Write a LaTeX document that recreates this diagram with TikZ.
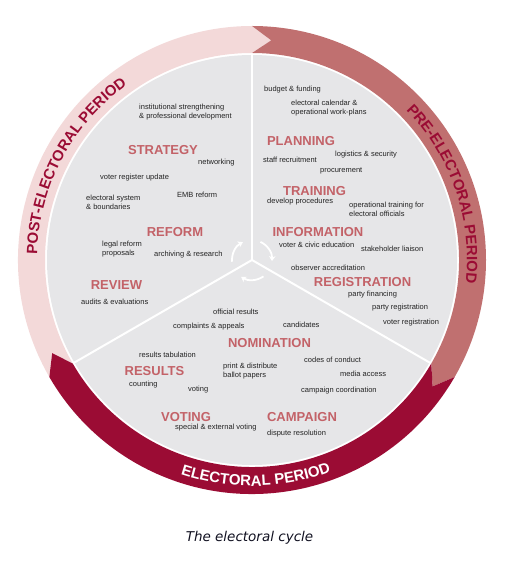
\documentclass[tikz,border=0pt]{standalone}
\usepackage{fontspec}
\setmainfont{Liberation Sans}
\newfontfamily\capfont{DejaVu Sans}
\usetikzlibrary{decorations.text,arrows.meta}
\definecolor{ringpink}{RGB}{243,217,217}
\definecolor{ringmid}{RGB}{192,112,112}
\definecolor{ringdark}{RGB}{155,12,52}
\definecolor{diskc}{RGB}{230,230,232}
\definecolor{headc}{RGB}{195,98,104}
\definecolor{textc}{RGB}{35,35,35}
\definecolor{captc}{RGB}{16,16,32}
\newcommand\myringfont{\fontsize{15}{15}\bfseries\selectfont}
\newcommand\myringarrow[3]{\fill[#3] (#1:234) arc[start angle=#1, end angle=#2, radius=234] -- ({#2-5}:220.5) -- (#2:207) arc[start angle=#2, end angle=#1, radius=207] -- ({#1-5}:220.5) -- cycle;}
\begin{document}
\begin{tikzpicture}[x=1pt,y=1pt,
  small/.style={anchor=west, font=\fontsize{7.5}{9}\selectfont, text=textc, align=left, inner sep=0pt},
  hd/.style={font=\fontsize{13}{13}\bfseries\selectfont, text=headc, inner sep=0pt},
  cyc/.style={white, line width=1.8pt, -{Stealth[length=5pt,width=6.5pt]}}]
\useasboundingbox (-252,-315) rectangle (258,260);
\coordinate (c) at (0,0);
% ring arrows
\myringarrow{210}{90}{ringpink}
\myringarrow{90}{-30}{ringmid}
\myringarrow{-30}{-150}{ringdark}
% disk
\fill[diskc] (c) circle[radius=205];
\draw[white, line width=2pt] (c) -- (90:206);
\draw[white, line width=2pt] (c) -- (210:206);
\draw[white, line width=2pt] (c) -- (330:206);
% centre arrows
\draw[cyc] (185:20) arc[start angle=185, end angle=117, radius=20];
\draw[cyc] (65:20) arc[start angle=65, end angle=-3, radius=20];
\draw[cyc] (305:20) arc[start angle=305, end angle=237, radius=20];
% ring texts
\path[decorate, decoration={text along path, text={|\myringfont|POST-ELECTORAL PERIOD}, text align=center, text color=ringdark}] (201:215) arc[start angle=201, end angle=103, radius=215];
\path[decorate, decoration={text along path, text={|\myringfont|PRE-ELECTORAL PERIOD}, text align=center, text color=ringdark}] (68:215) arc[start angle=68, end angle=-30, radius=215];
\path[decorate, decoration={text along path, text={|\myringfont|ELECTORAL PERIOD}, text align=center, text color=white}] (226:226) arc[start angle=226, end angle=316, radius=226];
\begin{scope}[shift={(-252pt,260pt)}, y=-1pt]
% headers
\node[hd] (strategy) at (163,150) {STRATEGY};
\node[hd] (reform) at (175,232) {REFORM};
\node[hd] (review) at (116.5,285) {REVIEW};
\node[hd] (planning) at (301,141) {PLANNING};
\node[hd] (training) at (314.5,191) {TRAINING};
\node[hd] (information) at (318,232) {INFORMATION};
\node[hd] (registration) at (362.5,282) {REGISTRATION};
\node[hd] (nomination) at (269.5,343) {NOMINATION};
\node[hd] (results) at (154.5,371) {RESULTS};
\node[hd] (voting) at (186,417) {VOTING};
\node[hd] (campaign) at (302,417) {CAMPAIGN};
% small texts
\node[small] (s1) at (139,112.5) {institutional strengthening\\\& professional development};
\node[small] (s2) at (198,163) {networking};
\node[small] (s3) at (100,178) {voter register update};
\node[small] (s4) at (86,202.5) {electoral system\\\& boundaries};
\node[small] (s5) at (177,195) {EMB reform};
\node[small] (s6) at (102,249) {legal reform\\proposals};
\node[small] (s7) at (154,255) {archiving \& research};
\node[small] (s8) at (264,90) {budget \& funding};
\node[small] (s9) at (291,108.5) {electoral calendar \&\\operational work-plans};
\node[small] (s10) at (335,155) {logistics \& security};
\node[small] (s11) at (263,160) {staff recruitment};
\node[small] (s12) at (320,171) {procurement};
\node[small] (s13) at (267,202) {develop procedures};
\node[small] (s14) at (349,209) {operational training for\\electoral officials};
\node[small] (s15) at (279,245) {voter \& civic education};
\node[small] (s16) at (361,249) {stakeholder liaison};
\node[small] (s17) at (291,268) {observer accreditation};
\node[small] (s18) at (348,295) {party financing};
\node[small] (s19) at (372,308) {party registration};
\node[small] (s20) at (383,323) {voter registration};
\node[small] (s21) at (81,302) {audits \& evaluations};
\node[small] (s22) at (213,312) {official results};
\node[small] (s23) at (173,327) {complaints \& appeals};
\node[small] (s24) at (283,325) {candidates};
\node[small] (s25) at (139,355) {results tabulation};
\node[small] (s26) at (304,360) {codes of conduct};
\node[small] (s27) at (223,371.5) {print \& distribute\\ballot papers};
\node[small] (s28) at (340,374) {media access};
\node[small] (s29) at (129,385) {counting};
\node[small] (s30) at (188,390) {voting};
\node[small] (s31) at (301,391) {campaign coordination};
\node[small] (s32) at (175,428) {special \& external voting};
\node[small] (s33) at (267,434) {dispute resolution};
% caption
\node[font=\capfont\itshape\fontsize{13.5}{14}\selectfont, text=captc, inner sep=0pt] (cap) at (249.5,538) {The electoral cycle};
\end{scope}
\end{tikzpicture}
\end{document}
